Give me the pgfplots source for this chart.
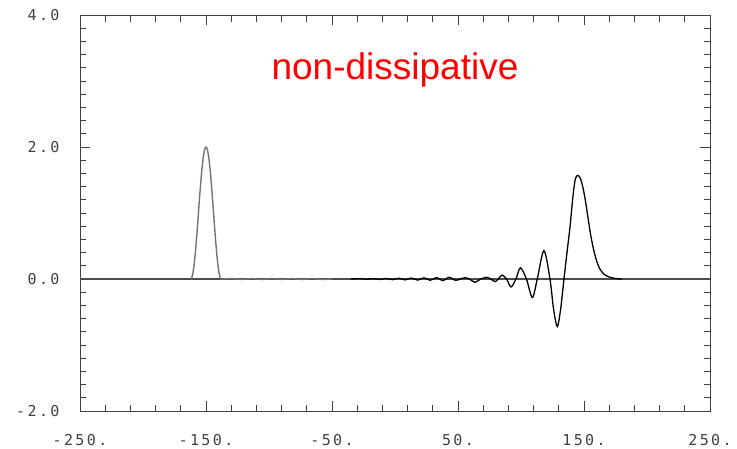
\documentclass[border=0pt]{standalone}
\usepackage{pgfplots}
\pgfplotsset{compat=1.18}
\usepackage{fontspec}
\setmainfont{Liberation Sans}
\newfontfamily\tickfont[LetterSpace=16]{DejaVu Sans Mono}
\begin{document}
\begin{tikzpicture}
\begin{axis}[name=ax, at={(0,0)}, anchor=south west,
 scale only axis, width=630bp, height=396bp,
 xmin=-250,xmax=250,ymin=-2,ymax=4,
 xtick={-250,-150,-50,50,150,250}, ytick={-2,0,2,4},
 xticklabels={-250.,-150.,-50.,50.,150.,250.},
 yticklabels={-2.0,0.0,2.0,4.0},
 minor x tick num=4, minor y tick num=9,
 tick align=inside, major tick length=10bp, minor tick length=6.5bp,
 axis line style={black!75, line width=0.9bp},
 every tick/.style={black!75, line width=0.8bp},
 ticklabel style={font=\tickfont\fontsize{15bp}{17bp}\selectfont, text=black!75},
 xticklabel style={yshift=-20bp},
 yticklabel style={xshift=-17bp},
 clip=false]
\addplot[black!70, line width=1.3bp] coordinates {(-250,0)(250,0)};
\addplot[black!55, line width=1.4bp, smooth] coordinates {
(-162,0)(-161,0.034)(-160,0.134)(-159,0.293)(-158,0.5)(-157,0.741)(-156,1.0)(-155,1.259)(-154,1.5)(-153,1.707)(-152,1.866)(-151,1.966)(-150,2.0)
(-149,1.966)(-148,1.866)(-147,1.707)(-146,1.5)(-145,1.259)(-144,1.0)(-143,0.741)(-142,0.5)(-141,0.293)(-140,0.134)(-139,0.034)(-138,0)
(-130,0.006)(-122,-0.006)(-114,0.006)(-106,-0.006)(-98,0.006)(-90,-0.006)(-82,0.006)(-74,-0.006)(-66,0.006)(-58,-0.006)(-50,0)};
\addplot[black, line width=1.3bp, smooth] coordinates {
(-35,0)(-27,0.004)(-22,-0.004)(-17,0.006)(-12,-0.007)(-7,0.009)(-2,-0.01)(3,0.012)(8,-0.013)(13,0.015)(18,-0.017)(23,0.019)(28,-0.02)(33,0.022)(38,-0.024)(43,0.026)(48,-0.02)(52,0.0)(55.6,0.02)(59,0)(63.5,-0.05)(68,0)(72.8,0.025)(76,0)(79.4,-0.04)(82,0)(85,0.06)(88.5,0)(92.1,-0.12)(96,0)(99.5,0.17)(104.3,0)(109,-0.28)(112.9,0)(118.2,0.43)(123,0)(125.8,-0.45)(128.8,-0.72)(131.5,-0.45)(134.1,0)(136.5,0.4)(138.9,0.79)(141.5,1.3)(143.2,1.52)(145,1.57)(147,1.53)(149,1.40)(151,1.2)(153,0.95)(155,0.7)(157,0.5)(159,0.34)(161,0.22)(163,0.14)(166,0.07)(170,0.03)(175,0.008)(180,0)};
\node[text=red, font=\fontsize{37bp}{40bp}\selectfont, anchor=base] at (axis cs:0,3.03) {non-dissipative};
\end{axis}
\pgfresetboundingbox
\path[use as bounding box] (-80bp,-38bp) rectangle (657bp,411bp);
\end{tikzpicture}
\end{document}
